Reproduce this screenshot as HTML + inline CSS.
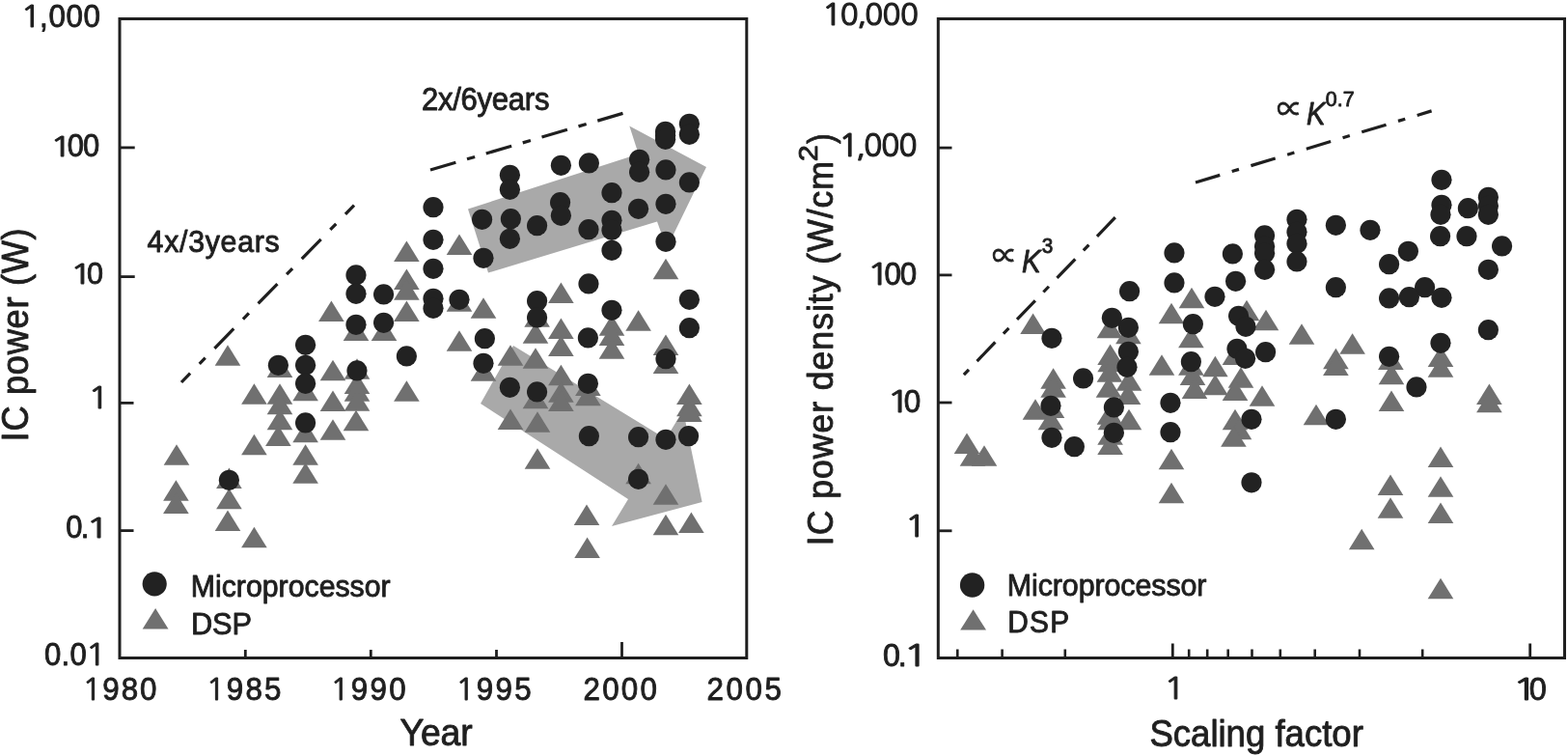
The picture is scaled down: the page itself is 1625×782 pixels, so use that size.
<!DOCTYPE html>
<html lang="en">
<head>
<meta charset="utf-8">
<title>IC power and power density trends</title>
<style>
html,body{margin:0;padding:0;background:#fff;}
body{width:1625px;height:782px;overflow:hidden;}
svg{display:block;}
text{white-space:pre;}
</style>
</head>
<body>
<svg width="1625" height="782" viewBox="0 0 1625 782" font-family='"Liberation Sans", Arial, Helvetica, sans-serif' fill="#1f1f1f">
<rect x="0" y="0" width="1625" height="782" fill="#ffffff"/>
<g id="left-plot">
<g fill="#a9a9a9">
<path d="M485 216.5L661.7 159.4L652.3 130.6L732 173L691 257L681 229.6L506 282.5Z"/>
<path d="M532 358L690 454.5L708 425L727.6 520L634 545L651 517L498 418Z"/>
</g>
<g fill="#707070"><path d="M462.7 263.9L476.0 242.4L489.3 263.9Z"/><path d="M676.7 289.3L690.0 267.8L703.3 289.3Z"/><path d="M568.1 313.9L581.4 292.4L594.7 313.9Z"/><path d="M487.7 329.7L501.0 308.2L514.3 329.7Z"/><path d="M462.7 322.7L476.0 301.2L489.3 322.7Z"/><path d="M543.3 338.7L556.6 317.2L569.9 338.7Z"/><path d="M648.3 342.7L661.6 321.2L674.9 342.7Z"/><path d="M568.1 350.9L581.4 329.4L594.7 350.9Z"/><path d="M541.7 355.7L555.0 334.2L568.3 355.7Z"/><path d="M620.7 347.7L634.0 326.2L647.3 347.7Z"/><path d="M620.7 357.9L634.0 336.4L647.3 357.9Z"/><path d="M620.7 371.7L634.0 350.2L647.3 371.7Z"/><path d="M568.1 368.9L581.4 347.4L594.7 368.9Z"/><path d="M462.7 363.7L476.0 342.2L489.3 363.7Z"/><path d="M676.7 367.9L690.0 346.4L703.3 367.9Z"/><path d="M676.7 386.9L690.0 365.4L703.3 386.9Z"/><path d="M515.7 378.7L529.0 357.2L542.3 378.7Z"/><path d="M541.7 381.7L555.0 360.2L568.3 381.7Z"/><path d="M568.1 399.3L581.4 377.8L594.7 399.3Z"/><path d="M487.7 394.7L501.0 373.2L514.3 394.7Z"/><path d="M568.1 416.7L581.4 395.2L594.7 416.7Z"/><path d="M568.1 425.9L581.4 404.4L594.7 425.9Z"/><path d="M596.1 409.9L609.4 388.4L622.7 409.9Z"/><path d="M596.1 420.3L609.4 398.8L622.7 420.3Z"/><path d="M541.7 423.3L555.0 401.8L568.3 423.3Z"/><path d="M515.7 444.9L529.0 423.4L542.3 444.9Z"/><path d="M543.7 447.7L557.0 426.2L570.3 447.7Z"/><path d="M543.7 485.7L557.0 464.2L570.3 485.7Z"/><path d="M701.1 418.9L714.4 397.4L727.7 418.9Z"/><path d="M701.1 431.3L714.4 409.8L727.7 431.3Z"/><path d="M701.1 436.9L714.4 415.4L727.7 436.9Z"/><path d="M648.3 501.3L661.6 479.8L674.9 501.3Z"/><path d="M676.7 522.7L690.0 501.2L703.3 522.7Z"/><path d="M594.7 543.9L608.0 522.4L621.3 543.9Z"/><path d="M595.3 577.9L608.6 556.4L621.9 577.9Z"/><path d="M676.7 554.3L690.0 532.8L703.3 554.3Z"/><path d="M703.1 551.9L716.4 530.4L729.7 551.9Z"/><path d="M408.1 270.9L421.4 249.4L434.7 270.9Z"/><path d="M408.1 299.9L421.4 278.4L434.7 299.9Z"/><path d="M408.1 310.7L421.4 289.2L434.7 310.7Z"/><path d="M408.1 332.9L421.4 311.4L434.7 332.9Z"/><path d="M330.1 332.9L343.4 311.4L356.7 332.9Z"/><path d="M355.7 352.9L369.0 331.4L382.3 352.9Z"/><path d="M384.7 352.9L398.0 331.4L411.3 352.9Z"/><path d="M222.7 378.7L236.0 357.2L249.3 378.7Z"/><path d="M276.7 390.9L290.0 369.4L303.3 390.9Z"/><path d="M331.7 394.3L345.0 372.8L358.3 394.3Z"/><path d="M356.7 392.7L370.0 371.2L383.3 392.7Z"/><path d="M356.7 407.9L370.0 386.4L383.3 407.9Z"/><path d="M356.7 415.7L370.0 394.2L383.3 415.7Z"/><path d="M356.7 425.7L370.0 404.2L383.3 425.7Z"/><path d="M355.7 446.3L369.0 424.8L382.3 446.3Z"/><path d="M250.1 418.7L263.4 397.2L276.7 418.7Z"/><path d="M276.7 418.7L290.0 397.2L303.3 418.7Z"/><path d="M276.7 429.3L290.0 407.8L303.3 429.3Z"/><path d="M276.7 445.3L290.0 423.8L303.3 445.3Z"/><path d="M275.1 461.9L288.4 440.4L301.7 461.9Z"/><path d="M303.3 415.3L316.6 393.8L329.9 415.3Z"/><path d="M303.3 458.3L316.6 436.8L329.9 458.3Z"/><path d="M331.7 425.9L345.0 404.4L358.3 425.9Z"/><path d="M331.7 455.7L345.0 434.2L358.3 455.7Z"/><path d="M408.1 415.7L421.4 394.2L434.7 415.7Z"/><path d="M250.1 471.3L263.4 449.8L276.7 471.3Z"/><path d="M303.3 481.7L316.6 460.2L329.9 481.7Z"/><path d="M169.7 481.7L183.0 460.2L196.3 481.7Z"/><path d="M169.1 518.7L182.4 497.2L195.7 518.7Z"/><path d="M169.1 531.9L182.4 510.4L195.7 531.9Z"/><path d="M224.1 505.9L237.4 484.4L250.7 505.9Z"/><path d="M224.1 527.3L237.4 505.8L250.7 527.3Z"/><path d="M222.7 549.9L236.0 528.4L249.3 549.9Z"/><path d="M250.1 567.3L263.4 545.8L276.7 567.3Z"/><path d="M303.3 500.7L316.6 479.2L329.9 500.7Z"/></g>
<g fill="#222222"><circle cx="714.4" cy="128.3" r="10.6"/><circle cx="714.4" cy="139.3" r="10.6"/><circle cx="689.6" cy="136.3" r="10.6"/><circle cx="689.6" cy="140.3" r="10.6"/><circle cx="689.6" cy="144.3" r="10.6"/><circle cx="662.6" cy="165.3" r="10.6"/><circle cx="662.6" cy="178.3" r="10.6"/><circle cx="690.0" cy="175.9" r="10.6"/><circle cx="714.4" cy="188.9" r="10.6"/><circle cx="581.4" cy="171.3" r="10.6"/><circle cx="610.4" cy="168.9" r="10.6"/><circle cx="528.4" cy="181.3" r="10.6"/><circle cx="528.4" cy="196.3" r="10.6"/><circle cx="634.0" cy="199.7" r="10.6"/><circle cx="580.6" cy="209.7" r="10.6"/><circle cx="581.4" cy="223.3" r="10.6"/><circle cx="661.6" cy="216.3" r="10.6"/><circle cx="690.0" cy="211.3" r="10.6"/><circle cx="499.6" cy="227.3" r="10.6"/><circle cx="529.4" cy="226.7" r="10.6"/><circle cx="556.6" cy="233.7" r="10.6"/><circle cx="610.0" cy="237.7" r="10.6"/><circle cx="634.0" cy="228.3" r="10.6"/><circle cx="634.0" cy="238.3" r="10.6"/><circle cx="528.4" cy="247.3" r="10.6"/><circle cx="690.0" cy="250.3" r="10.6"/><circle cx="634.0" cy="259.3" r="10.6"/><circle cx="501.0" cy="267.3" r="10.6"/><circle cx="610.0" cy="293.9" r="10.6"/><circle cx="556.6" cy="311.7" r="10.6"/><circle cx="556.6" cy="328.9" r="10.6"/><circle cx="634.0" cy="321.3" r="10.6"/><circle cx="714.4" cy="310.3" r="10.6"/><circle cx="714.4" cy="339.7" r="10.6"/><circle cx="502.4" cy="350.7" r="10.6"/><circle cx="609.4" cy="349.9" r="10.6"/><circle cx="501.0" cy="376.3" r="10.6"/><circle cx="690.0" cy="371.7" r="10.6"/><circle cx="476.0" cy="310.3" r="10.6"/><circle cx="528.4" cy="401.3" r="10.6"/><circle cx="556.6" cy="405.9" r="10.6"/><circle cx="609.4" cy="397.3" r="10.6"/><circle cx="610.4" cy="451.7" r="10.6"/><circle cx="661.6" cy="452.7" r="10.6"/><circle cx="690.0" cy="455.3" r="10.6"/><circle cx="713.6" cy="451.7" r="10.6"/><circle cx="661.6" cy="496.3" r="10.6"/><circle cx="449.0" cy="214.7" r="10.6"/><circle cx="449.0" cy="248.3" r="10.6"/><circle cx="449.0" cy="278.3" r="10.6"/><circle cx="449.0" cy="309.3" r="10.6"/><circle cx="449.0" cy="319.3" r="10.6"/><circle cx="369.0" cy="284.9" r="10.6"/><circle cx="369.0" cy="304.3" r="10.6"/><circle cx="397.6" cy="304.9" r="10.6"/><circle cx="369.0" cy="336.3" r="10.6"/><circle cx="397.6" cy="334.3" r="10.6"/><circle cx="316.6" cy="357.3" r="10.6"/><circle cx="316.6" cy="378.3" r="10.6"/><circle cx="316.6" cy="397.3" r="10.6"/><circle cx="288.4" cy="378.3" r="10.6"/><circle cx="370.0" cy="383.9" r="10.6"/><circle cx="421.4" cy="368.9" r="10.6"/><circle cx="316.6" cy="437.9" r="10.6"/><circle cx="237.4" cy="497.3" r="10.6"/></g>
<circle cx="160.2" cy="604.8" r="12.6" fill="#222222"/>
<g fill="#707070"><path d="M147.7 651.5L161.1 630.1L174.5 651.5Z"/></g>
<g stroke="#1f1f1f" stroke-width="3" fill="none">
<rect x="124" y="19.5" width="649.8" height="662"/>
<line x1="124" y1="152.9" x2="139.7" y2="152.9" stroke-width="2.8"/>
<line x1="124" y1="286.6" x2="139.7" y2="286.6" stroke-width="2.8"/>
<line x1="124" y1="417.4" x2="138.5" y2="417.4" stroke-width="2.8"/>
<line x1="124" y1="549.6" x2="138.5" y2="549.6" stroke-width="2.8"/>
<line x1="254.3" y1="681.5" x2="254.3" y2="673" stroke-width="2.8"/>
<line x1="384.3" y1="681.5" x2="384.3" y2="673" stroke-width="2.8"/>
<line x1="514.5" y1="681.5" x2="514.5" y2="673" stroke-width="2.8"/>
<line x1="644.5" y1="681.5" x2="644.5" y2="665" stroke-width="2.8"/>
<line x1="188" y1="396" x2="367" y2="212.6" stroke-width="3.2" stroke-dasharray="28.5 13.8 8.6 13.8" stroke-dashoffset="15.5"/>
<line x1="446" y1="176" x2="645.5" y2="117.4" stroke-width="3.2" stroke-dasharray="27.5 12.1 8.5 12.1"/>
</g>
</g>
<g id="right-plot">
<g fill="#707070"><path d="M1221.7 319.3L1235.0 297.8L1248.3 319.3Z"/><path d="M1278.7 332.3L1292.0 310.8L1305.3 332.3Z"/><path d="M1057.3 345.9L1070.6 324.4L1083.9 345.9Z"/><path d="M1200.7 335.3L1214.0 313.8L1227.3 335.3Z"/><path d="M1136.7 350.3L1150.0 328.8L1163.3 350.3Z"/><path d="M1156.1 356.3L1169.4 334.8L1182.7 356.3Z"/><path d="M1221.1 360.3L1234.4 338.8L1247.7 360.3Z"/><path d="M1137.3 377.9L1150.6 356.4L1163.9 377.9Z"/><path d="M1137.3 385.3L1150.6 363.8L1163.9 385.3Z"/><path d="M1136.7 395.7L1150.0 374.2L1163.3 395.7Z"/><path d="M1135.7 411.7L1149.0 390.2L1162.3 411.7Z"/><path d="M1190.7 388.7L1204.0 367.2L1217.3 388.7Z"/><path d="M1221.1 388.7L1234.4 367.2L1247.7 388.7Z"/><path d="M1222.7 398.9L1236.0 377.4L1249.3 398.9Z"/><path d="M1224.7 412.9L1238.0 391.4L1251.3 412.9Z"/><path d="M1246.1 390.3L1259.4 368.8L1272.7 390.3Z"/><path d="M1246.1 409.3L1259.4 387.8L1272.7 409.3Z"/><path d="M1272.7 401.7L1286.0 380.2L1299.3 401.7Z"/><path d="M1266.7 414.9L1280.0 393.4L1293.3 414.9Z"/><path d="M1266.7 377.9L1280.0 356.4L1293.3 377.9Z"/><path d="M1078.3 402.7L1091.6 381.2L1104.9 402.7Z"/><path d="M1078.3 411.7L1091.6 390.2L1104.9 411.7Z"/><path d="M1156.7 404.7L1170.0 383.2L1183.3 404.7Z"/><path d="M1155.7 418.9L1169.0 397.4L1182.3 418.9Z"/><path d="M1059.7 434.7L1073.0 413.2L1086.3 434.7Z"/><path d="M1075.7 445.3L1089.0 423.8L1102.3 445.3Z"/><path d="M1076.7 432.9L1090.0 411.4L1103.3 432.9Z"/><path d="M1136.7 439.7L1150.0 418.2L1163.3 439.7Z"/><path d="M1137.7 445.3L1151.0 423.8L1164.3 445.3Z"/><path d="M1156.7 445.3L1170.0 423.8L1183.3 445.3Z"/><path d="M1266.7 445.3L1280.0 423.8L1293.3 445.3Z"/><path d="M988.7 469.9L1002.0 448.4L1015.3 469.9Z"/><path d="M994.7 482.7L1008.0 461.2L1021.3 482.7Z"/><path d="M1006.7 482.7L1020.0 461.2L1033.3 482.7Z"/><path d="M1137.3 460.7L1150.6 439.2L1163.9 460.7Z"/><path d="M1137.3 470.9L1150.6 449.4L1163.9 470.9Z"/><path d="M1200.7 486.3L1214.0 464.8L1227.3 486.3Z"/><path d="M1200.7 521.3L1214.0 499.8L1227.3 521.3Z"/><path d="M1270.7 455.3L1284.0 433.8L1297.3 455.3Z"/><path d="M1265.1 462.7L1278.4 441.2L1291.7 462.7Z"/><path d="M1298.7 342.3L1312.0 320.8L1325.3 342.3Z"/><path d="M1335.7 356.7L1349.0 335.2L1362.3 356.7Z"/><path d="M1388.3 366.7L1401.6 345.2L1414.9 366.7Z"/><path d="M1371.1 382.3L1384.4 360.8L1397.7 382.3Z"/><path d="M1371.1 388.9L1384.4 367.4L1397.7 388.9Z"/><path d="M1428.1 382.9L1441.4 361.4L1454.7 382.9Z"/><path d="M1428.7 398.3L1442.0 376.8L1455.3 398.3Z"/><path d="M1428.7 425.9L1442.0 404.4L1455.3 425.9Z"/><path d="M1479.7 379.9L1493.0 358.4L1506.3 379.9Z"/><path d="M1479.7 390.7L1493.0 369.2L1506.3 390.7Z"/><path d="M1530.1 418.9L1543.4 397.4L1556.7 418.9Z"/><path d="M1530.1 427.3L1543.4 405.8L1556.7 427.3Z"/><path d="M1294.7 420.7L1308.0 399.2L1321.3 420.7Z"/><path d="M1350.7 440.3L1364.0 418.8L1377.3 440.3Z"/><path d="M1479.7 483.9L1493.0 462.4L1506.3 483.9Z"/><path d="M1427.7 512.9L1441.0 491.4L1454.3 512.9Z"/><path d="M1479.7 514.7L1493.0 493.2L1506.3 514.7Z"/><path d="M1427.7 536.7L1441.0 515.2L1454.3 536.7Z"/><path d="M1479.7 541.9L1493.0 520.4L1506.3 541.9Z"/><path d="M1397.9 569.3L1411.2 547.8L1424.5 569.3Z"/><path d="M1479.7 620.3L1493.0 598.8L1506.3 620.3Z"/></g>
<g fill="#222222"><circle cx="1217.0" cy="261.9" r="10.6"/><circle cx="1277.4" cy="262.9" r="10.6"/><circle cx="1217.0" cy="292.9" r="10.6"/><circle cx="1280.6" cy="291.3" r="10.6"/><circle cx="1170.6" cy="301.7" r="10.6"/><circle cx="1259.0" cy="307.3" r="10.6"/><circle cx="1152.4" cy="329.3" r="10.6"/><circle cx="1169.4" cy="339.3" r="10.6"/><circle cx="1090.0" cy="350.3" r="10.6"/><circle cx="1236.4" cy="335.7" r="10.6"/><circle cx="1283.6" cy="327.3" r="10.6"/><circle cx="1291.0" cy="338.3" r="10.6"/><circle cx="1169.4" cy="364.3" r="10.6"/><circle cx="1168.0" cy="380.3" r="10.6"/><circle cx="1234.4" cy="374.7" r="10.6"/><circle cx="1282.0" cy="361.3" r="10.6"/><circle cx="1290.6" cy="371.3" r="10.6"/><circle cx="1122.6" cy="391.9" r="10.6"/><circle cx="1089.0" cy="420.3" r="10.6"/><circle cx="1154.4" cy="421.9" r="10.6"/><circle cx="1213.0" cy="417.3" r="10.6"/><circle cx="1213.0" cy="447.7" r="10.6"/><circle cx="1154.4" cy="448.3" r="10.6"/><circle cx="1090.0" cy="453.3" r="10.6"/><circle cx="1113.4" cy="462.7" r="10.6"/><circle cx="1297.0" cy="434.3" r="10.6"/><circle cx="1297.0" cy="499.8" r="10.6"/><circle cx="1494.0" cy="186.3" r="10.6"/><circle cx="1494.0" cy="212.3" r="10.6"/><circle cx="1493.0" cy="222.3" r="10.6"/><circle cx="1521.4" cy="215.7" r="10.6"/><circle cx="1542.4" cy="204.3" r="10.6"/><circle cx="1542.4" cy="213.3" r="10.6"/><circle cx="1542.4" cy="222.3" r="10.6"/><circle cx="1344.0" cy="227.3" r="10.6"/><circle cx="1384.4" cy="233.3" r="10.6"/><circle cx="1420.0" cy="238.3" r="10.6"/><circle cx="1344.0" cy="240.3" r="10.6"/><circle cx="1344.0" cy="252.3" r="10.6"/><circle cx="1344.0" cy="270.9" r="10.6"/><circle cx="1310.6" cy="243.9" r="10.6"/><circle cx="1310.6" cy="255.3" r="10.6"/><circle cx="1310.6" cy="262.3" r="10.6"/><circle cx="1310.6" cy="279.3" r="10.6"/><circle cx="1492.6" cy="244.7" r="10.6"/><circle cx="1520.0" cy="244.7" r="10.6"/><circle cx="1556.6" cy="254.9" r="10.6"/><circle cx="1459.4" cy="260.3" r="10.6"/><circle cx="1439.6" cy="273.7" r="10.6"/><circle cx="1542.4" cy="279.3" r="10.6"/><circle cx="1384.4" cy="297.7" r="10.6"/><circle cx="1476.6" cy="297.7" r="10.6"/><circle cx="1439.6" cy="308.9" r="10.6"/><circle cx="1460.4" cy="307.7" r="10.6"/><circle cx="1494.0" cy="308.3" r="10.6"/><circle cx="1542.4" cy="341.7" r="10.6"/><circle cx="1493.0" cy="355.3" r="10.6"/><circle cx="1439.6" cy="369.3" r="10.6"/><circle cx="1468.0" cy="400.9" r="10.6"/><circle cx="1384.4" cy="434.3" r="10.6"/><circle cx="1311.6" cy="364.7" r="10.6"/></g>
<circle cx="1007.6" cy="606" r="12.7" fill="#222222"/>
<g fill="#707070"><path d="M995.2 652.6L1008.6 631.2L1022.0 652.6Z"/></g>
<g stroke="#1f1f1f" stroke-width="3" fill="none">
<rect x="972.3" y="19.5" width="649.2" height="662"/>
<line x1="972.3" y1="153.1" x2="986.5" y2="153.1" stroke-width="2.8"/>
<line x1="972.3" y1="284.9" x2="986.5" y2="284.9" stroke-width="2.8"/>
<line x1="972.3" y1="417.0" x2="986.5" y2="417.0" stroke-width="2.8"/>
<line x1="972.3" y1="549.8" x2="986.5" y2="549.8" stroke-width="2.8"/>
<line x1="1215.3" y1="681.5" x2="1215.3" y2="666.5" stroke-width="2.8"/>
<line x1="1585.7" y1="681.5" x2="1585.7" y2="666.5" stroke-width="2.8"/>
<line x1="1474.2" y1="681.5" x2="1474.2" y2="672.5" stroke-width="2.6"/>
<line x1="1409.0" y1="681.5" x2="1409.0" y2="672.5" stroke-width="2.6"/>
<line x1="1362.7" y1="681.5" x2="1362.7" y2="672.5" stroke-width="2.6"/>
<line x1="1326.8" y1="681.5" x2="1326.8" y2="672.5" stroke-width="2.6"/>
<line x1="1297.5" y1="681.5" x2="1297.5" y2="672.5" stroke-width="2.6"/>
<line x1="1272.7" y1="681.5" x2="1272.7" y2="672.5" stroke-width="2.6"/>
<line x1="1251.2" y1="681.5" x2="1251.2" y2="672.5" stroke-width="2.6"/>
<line x1="1232.2" y1="681.5" x2="1232.2" y2="672.5" stroke-width="2.6"/>
<line x1="1103.8" y1="681.5" x2="1103.8" y2="672.5" stroke-width="2.6"/>
<line x1="1038.6" y1="681.5" x2="1038.6" y2="672.5" stroke-width="2.6"/>
<line x1="992.3" y1="681.5" x2="992.3" y2="672.5" stroke-width="2.6"/>
<line x1="1155.8" y1="225.2" x2="998.9" y2="388.2" stroke-width="3.2" stroke-dasharray="27.2 12.3 8 12.3"/>
<line x1="1239" y1="189" x2="1483.6" y2="114.9" stroke-width="3.2" stroke-dasharray="26.4 13 7.6 13"/>
</g>
</g>
<g id="labels" stroke="#1f1f1f" stroke-width="0.9" stroke-linejoin="round">
<text transform="translate(23.00 27.77) scale(0.9550 1)" font-size="32.89" letter-spacing="0.645"><tspan x="-1.71" font-family='"NanumGothic", "Liberation Sans", sans-serif' font-size="29.97" textLength="23.61" lengthAdjust="spacingAndGlyphs">1</tspan><tspan x="18.94">,000</tspan></text>
<text transform="translate(53.24 162.18) scale(0.9550 1)" font-size="32.39" letter-spacing="-0.795"><tspan x="-1.69" font-family='"NanumGothic", "Liberation Sans", sans-serif' font-size="29.52" textLength="23.26" lengthAdjust="spacingAndGlyphs">1</tspan><tspan x="17.22">00</tspan></text>
<text transform="translate(74.18 293.98) scale(0.9550 1)" font-size="31.97" letter-spacing="-1.170"><tspan x="-1.67" font-family='"NanumGothic", "Liberation Sans", sans-serif' font-size="29.13" textLength="22.95" lengthAdjust="spacingAndGlyphs">1</tspan><tspan x="16.61">0</tspan></text>
<text transform="translate(92.68 423.30) scale(0.9550 1)" font-size="32.75"><tspan x="-1.71" font-family='"NanumGothic", "Liberation Sans", sans-serif' font-size="29.85" textLength="23.51" lengthAdjust="spacingAndGlyphs">1</tspan></text>
<text transform="translate(68.15 556.68) scale(0.9550 1)" font-size="32.39" letter-spacing="-1.698"><tspan x="0.00">0.</tspan><tspan x="21.93" font-family='"NanumGothic", "Liberation Sans", sans-serif' font-size="29.52" textLength="23.26" lengthAdjust="spacingAndGlyphs">1</tspan></text>
<text transform="translate(46.05 689.07) scale(0.9550 1)" font-size="32.54" letter-spacing="0.285"><tspan x="0.00">0.0</tspan><tspan x="44.39" font-family='"NanumGothic", "Liberation Sans", sans-serif' font-size="29.65" textLength="23.36" lengthAdjust="spacingAndGlyphs">1</tspan></text>
<text transform="translate(87.00 724.77) scale(0.9550 1)" font-size="32.82" letter-spacing="2.000"><tspan x="-1.71" font-family='"NanumGothic", "Liberation Sans", sans-serif' font-size="29.90" textLength="23.56" lengthAdjust="spacingAndGlyphs">1</tspan><tspan x="20.25">980</tspan></text>
<text transform="translate(215.10 724.77) scale(0.9550 1)" font-size="32.82" letter-spacing="2.315"><tspan x="-1.71" font-family='"NanumGothic", "Liberation Sans", sans-serif' font-size="29.90" textLength="23.56" lengthAdjust="spacingAndGlyphs">1</tspan><tspan x="20.57">985</tspan></text>
<text transform="translate(344.00 724.77) scale(0.9550 1)" font-size="32.82" letter-spacing="2.419"><tspan x="-1.71" font-family='"NanumGothic", "Liberation Sans", sans-serif' font-size="29.90" textLength="23.56" lengthAdjust="spacingAndGlyphs">1</tspan><tspan x="20.67">990</tspan></text>
<text transform="translate(473.90 724.77) scale(0.9550 1)" font-size="32.82" letter-spacing="2.489"><tspan x="-1.71" font-family='"NanumGothic", "Liberation Sans", sans-serif' font-size="29.90" textLength="23.56" lengthAdjust="spacingAndGlyphs">1</tspan><tspan x="20.74">995</tspan></text>
<text transform="translate(604.61 724.77) scale(0.9550 1)" font-size="32.82" letter-spacing="2.311">2000</text>
<text transform="translate(732.61 724.77) scale(0.9550 1)" font-size="32.82" letter-spacing="2.660">2005</text>
<text transform="translate(414.43 772.20) scale(0.9550 1)" font-size="39.13" letter-spacing="-0.046">Year</text>
<text transform="translate(28.80 457.38) rotate(-90) scale(0.9550 1)" font-size="37.97" letter-spacing="0.721">IC power (W)</text>
<text transform="translate(197.76 618.05) scale(0.9550 1)" font-size="31.67" letter-spacing="0.020">Microprocessor</text>
<text transform="translate(198.02 656.98) scale(0.9550 1)" font-size="32.22" letter-spacing="-0.143">DSP</text>
<text transform="translate(152.57 261.40) scale(0.9550 1)" font-size="31.71" letter-spacing="0.765">4x/3years</text>
<text transform="translate(437.02 113.70) scale(0.9550 1)" font-size="32.57" letter-spacing="-0.305">2x/6years</text>
<text y="25.94" font-family='"NanumGothic", "Liberation Sans", sans-serif' font-size="31.17" stroke-width="1.20"><tspan x="851.78" textLength="21.15" lengthAdjust="spacingAndGlyphs">1</tspan><tspan x="870.84">0</tspan><tspan x="888.53" dy="-1.5">,</tspan><tspan x="896.29" dy="1.5">0</tspan><tspan x="914.59">0</tspan><tspan x="932.89">0</tspan></text>
<text y="162.24" font-family='"NanumGothic", "Liberation Sans", sans-serif' font-size="31.43" stroke-width="1.20"><tspan x="868.93" textLength="21.33" lengthAdjust="spacingAndGlyphs">1</tspan><tspan x="887.14" dy="-1.5">,</tspan><tspan x="895.21" dy="1.5">0</tspan><tspan x="913.16">0</tspan><tspan x="931.51">0</tspan></text>
<text transform="translate(900.01 294.87) scale(0.9550 1)" font-size="32.75" letter-spacing="-1.013"><tspan x="-1.71" font-family='"NanumGothic", "Liberation Sans", sans-serif' font-size="29.84" textLength="23.51" lengthAdjust="spacingAndGlyphs">1</tspan><tspan x="17.20">00</tspan></text>
<text transform="translate(920.59 427.07) scale(0.9550 1)" font-size="32.96" letter-spacing="-1.509"><tspan x="-1.72" font-family='"NanumGothic", "Liberation Sans", sans-serif' font-size="30.03" textLength="23.66" lengthAdjust="spacingAndGlyphs">1</tspan><tspan x="16.82">0</tspan></text>
<text transform="translate(939.16 556.20) scale(0.9550 1)" font-size="33.33"><tspan x="-1.74" font-family='"NanumGothic", "Liberation Sans", sans-serif' font-size="30.38" textLength="23.93" lengthAdjust="spacingAndGlyphs">1</tspan></text>
<text transform="translate(914.91 689.96) scale(0.9550 1)" font-size="33.80" letter-spacing="-2.221"><tspan x="0.00">0.</tspan><tspan x="21.99" font-family='"NanumGothic", "Liberation Sans", sans-serif' font-size="30.80" textLength="24.27" lengthAdjust="spacingAndGlyphs">1</tspan></text>
<text transform="translate(1207.67 724.10) scale(0.9550 1)" font-size="33.04"><tspan x="-1.72" font-family='"NanumGothic", "Liberation Sans", sans-serif' font-size="30.11" textLength="23.72" lengthAdjust="spacingAndGlyphs">1</tspan></text>
<text transform="translate(1568.89 724.86) scale(0.9550 1)" font-size="34.08" letter-spacing="-2.300"><tspan x="-1.78" font-family='"NanumGothic", "Liberation Sans", sans-serif' font-size="31.06" textLength="24.47" lengthAdjust="spacingAndGlyphs">1</tspan><tspan x="16.66">0</tspan></text>
<text transform="translate(1191.42 772.72) scale(0.9550 1)" font-size="38.33" letter-spacing="-0.025">Scaling factor</text>
<text transform="translate(862.80 565.22) rotate(-90) scale(0.9550 1)" font-size="37.25" letter-spacing="1.035">IC power density (W/cm<tspan x="416.67" y="-15.40" font-size="28.57" letter-spacing="0" textLength="17.89" lengthAdjust="spacingAndGlyphs">2</tspan><tspan x="435.87" y="0.00" letter-spacing="0" textLength="11.12" lengthAdjust="spacingAndGlyphs">)</tspan></text>
<text transform="translate(1043.74 617.20) scale(0.9550 1)" font-size="31.88" letter-spacing="-0.100">Microprocessor</text>
<text transform="translate(1044.19 654.79) scale(0.9550 1)" font-size="31.25" letter-spacing="1.396">DSP</text>
<text font-size="33.55"><tspan x="1028.25" y="276.48" font-family='"Noto Sans CJK SC", "DejaVu Sans", sans-serif' font-size="30.49" textLength="25.94" lengthAdjust="spacingAndGlyphs">∝</tspan> <tspan x="1058.96" y="281.55" font-style="italic" textLength="19.63" lengthAdjust="spacingAndGlyphs">K</tspan><tspan x="1079.84" y="262.47" font-size="22.82" textLength="11.55" lengthAdjust="spacingAndGlyphs">3</tspan></text>
<text font-size="33.33"><tspan x="1323.35" y="123.58" font-family='"Noto Sans CJK SC", "DejaVu Sans", sans-serif' font-size="30.49" textLength="26.41" lengthAdjust="spacingAndGlyphs">∝</tspan> <tspan x="1354.07" y="128.90" font-style="italic" textLength="19.53" lengthAdjust="spacingAndGlyphs">K</tspan><tspan x="1373.83" y="109.57" font-size="22.82" textLength="29.79" lengthAdjust="spacingAndGlyphs">0.7</tspan></text>
</g>
</svg>
</body>
</html>
